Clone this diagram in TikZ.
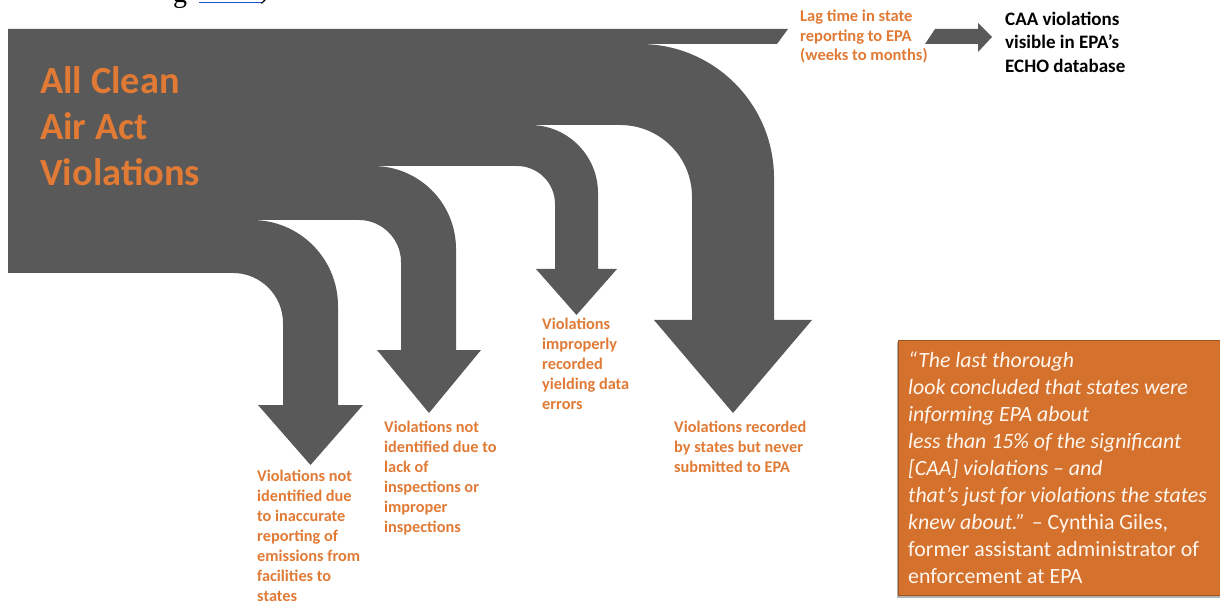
\documentclass[tikz,border=0pt]{standalone}
\usepackage{fontspec}
\setmainfont{Carlito}
\newfontfamily\seriffont{Liberation Serif}
\definecolor{flowgray}{HTML}{595959}
\definecolor{lblorange}{HTML}{E07A35}
\definecolor{boxorange}{HTML}{D4712D}
\definecolor{linkblue}{HTML}{1A56C8}
\definecolor{quotetext}{HTML}{FFF6EE}
\begin{document}
\begin{tikzpicture}[x=1pt,y=-1pt,
  lbl/.style={anchor=north west, inner sep=0pt, align=left, text=lblorange,
    font=\bfseries\fontsize{16.3}{20}\selectfont},
  flowshape/.style={fill=flowgray, draw=none}]
\useasboundingbox (0,0) rectangle (1220,601);

% cropped fragment of the text line above
\node[anchor=base west, inner sep=0pt, font=\seriffont\fontsize{28}{28}\selectfont] (fragg) at (173,3) {g};
\draw[linkblue, line width=1.5pt] (199,2.5) -- (262,2.5);
\node[anchor=base west, inner sep=0pt, font=\seriffont\fontsize{28}{28}\selectfont] (fragp) at (260,-1) {)};

% main flow with its four branches
\fill[flowshape] (8,29) -- (788,29) -- (777,44) -- (640,44)
  .. controls (714,44) and (774,104) .. (774,178)
  -- (774,320) -- (812,320) -- (733,413) -- (654,320) -- (692,320) -- (692,197)
  .. controls (692,157) and (660,125) .. (620,125)
  -- (530,125)
  .. controls (567.5,125) and (598,155.5) .. (598,193)
  -- (598,269) -- (617,269) -- (576.5,315) -- (536,269) -- (555,269) -- (555,204)
  .. controls (555,183) and (538,166) .. (517,166)
  -- (373,166)
  .. controls (419,166) and (456,203) .. (456,249)
  -- (456,350) -- (481,350) -- (429,413) -- (377,350) -- (401,350) -- (401,262)
  .. controls (401,239) and (382,220) .. (359,220)
  -- (252,220)
  .. controls (299.5,220) and (338,258.5) .. (338,306)
  -- (338,405) -- (363,405) -- (310.5,465) -- (258,405) -- (283,405) -- (283,323)
  .. controls (283,295.4) and (260.6,273) .. (233,273)
  -- (8,273) -- cycle;

% small arrow to the ECHO database
\fill[flowshape] (935,29) -- (978,29) -- (978,23) -- (992,37) -- (978,52) -- (978,44) -- (925,44) -- cycle;

% texts
\node[anchor=north west, inner sep=0pt, align=left, text=lblorange,
  font=\bfseries\fontsize{38.4}{46}\selectfont] (title) at (40,66) {All Clean\\Air Act\\Violations};

\node[lbl, font=\bfseries\fontsize{16.5}{19.5}\selectfont] (lag) at (800,10) {Lag time in state\\reporting to EPA\\(weeks to months)};

\node[anchor=north west, inner sep=0pt, align=left, text=black,
  font=\bfseries\fontsize{19}{23.3}\selectfont] (echo) at (1005,12) {CAA violations\\visible in EPA’s\\ECHO database};

\node[lbl] (lab1) at (257,470) {Violations not\\identified due\\to inaccurate\\reporting of\\emissions from\\facilities to\\states};
\node[lbl] (lab2) at (384,421) {Violations not\\identified due to\\lack of\\inspections or\\improper\\inspections};
\node[lbl] (lab3) at (542,318) {Violations\\improperly\\recorded\\yielding data\\errors};
\node[lbl] (lab4) at (674,421) {Violations recorded\\by states but never\\submitted to EPA};

% quote box
\fill[black!30] (896.5,342.5) rectangle (1224,597.5);
\filldraw[fill=boxorange, draw=boxorange!75!black, line width=0.8pt] (898,340) rectangle (1226,595);
\node[anchor=north west, inner sep=0pt, align=left, text=quotetext,
  font=\fontsize{21.8}{26.9}\selectfont] (quote) at (908,352)
  {\textit{“The last thorough}\\
   \textit{look concluded that states were}\\
   \textit{informing EPA about}\\
   \textit{less than 15\% of the significant}\\
   \textit{[CAA] violations – and}\\
   \textit{that’s just for violations the states}\\
   \textit{knew about.”} – Cynthia Giles,\\
   former assistant administrator of\\
   enforcement at EPA};
\end{tikzpicture}
\end{document}
